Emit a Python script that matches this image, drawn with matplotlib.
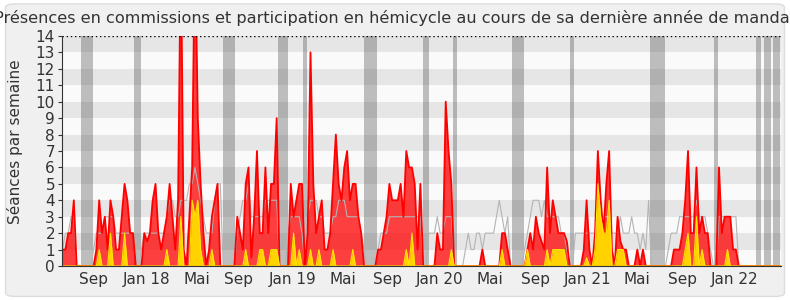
import matplotlib
matplotlib.use("Agg")
import matplotlib.pyplot as plt
from matplotlib.patches import FancyBboxPatch

# one value per week, starting early June 2017
commissions = [
    1, 1, 2, 2, 4, 0, 0, 0, 0, 0, 0, 0, 1, 4, 2, 3,
    1, 4, 3, 1, 1, 3, 5, 4, 2, 2, 0, 0, 0, 2, 1.5, 2,
    4, 5, 2, 1, 2, 3, 5, 3, 1, 4, 20, 1, 0, 3, 6, 20,
    9, 5, 2, 0, 1, 3, 4, 5, 0, 0, 0, 0, 0, 0, 3, 2,
    1, 5, 6, 0.5, 3, 7, 2, 2, 6, 2, 5, 5, 9, 0, 0, 0,
    0, 5, 3, 4, 5, 5, 0, 2, 13, 5, 2, 3, 4, 1, 1, 2,
    5, 8, 5, 4, 6, 7, 4, 5, 5, 3, 2, 0, 0, 0, 0, 0,
    1, 1, 2, 3, 5, 4, 4, 4, 5, 3, 7, 6, 6, 5, 1, 5,
    0, 0, 0, 0, 0, 2, 1, 1, 10, 7, 5, 0, 0, 0, 0, 0,
    0, 0, 0, 0, 0, 1, 0, 0, 0, 0, 0, 0, 2, 2, 1, 0,
    0, 0, 0, 0, 0, 1, 2, 1, 3, 2, 1.5, 1, 6, 2, 4, 3,
    2, 2, 2, 1.5, 0, 0, 0, 0, 0, 1, 4, 1, 0, 2, 7, 4,
    2, 5, 7, 1, 0, 3, 1.5, 1, 1, 0, 0, 0, 1, 0, 1, 0,
    0, 0, 0, 0, 0, 0, 0, 0, 0, 1, 1, 1, 2, 4, 7, 2,
    2, 6, 2, 3, 2, 2, 0, 0, 0, 6, 2, 3, 3, 3, 1, 1,
    0, 0, 0, 0, 0, 0, 0, 0, 0, 0, 0, 0, 0, 0, 0, 0,
]

hemicycle = [
    0, 0, 0, 0, 0, 0, 0, 0, 0, 0, 0, 0, 0, 1, 0, 0,
    0, 2, 0, 0, 0, 0, 2, 0, 0, 0, 0, 0, 0, 0, 0, 0,
    0, 0, 0, 0, 0, 1, 0, 0, 0, 0, 3, 0, 0, 0, 4, 3,
    4, 1, 0, 0, 0, 1, 0, 0, 0, 0, 0, 0, 0, 0, 0, 0,
    0, 1, 0, 0, 0, 0, 1, 1, 0, 0, 1, 1, 1, 0, 0, 0,
    0, 0, 2, 0, 1, 0, 0, 0, 1, 0, 0, 1, 0, 0, 0, 0,
    1, 0, 0, 0, 0, 0, 0, 1, 0, 0, 0, 0, 0, 0, 0, 0,
    0, 0, 0, 0, 0, 0, 0, 0, 0, 0, 1, 0, 2, 0, 0, 0,
    0, 0, 0, 0, 0, 0, 0, 0, 0, 0, 1, 0, 0, 0, 0, 0,
    0, 0, 0, 0, 0, 0, 0, 0, 0, 0, 0, 0, 1, 0, 0, 0,
    0, 0, 0, 0, 0, 1, 0, 0, 0, 0, 0, 0, 1, 0, 1, 1,
    1, 1, 1, 0, 0, 0, 0, 0, 0, 0, 0.5, 0, 0, 1, 5, 3,
    2, 2, 4, 0, 0, 1, 1, 1, 0, 0, 0, 0, 0, 0, 0, 0,
    0, 0, 0, 0, 0, 0, 0, 0, 0, 0, 0, 0, 0, 1, 2, 0,
    0, 3, 0, 1, 0, 0, 0, 0, 0, 0, 0, 0, 1, 0, 0, 0,
    0, 0, 0, 0, 0, 0, 0, 0, 0, 0, 0, 0, 0, 0, 0, 0,
]

mediane = [
    1, 2, 2, 3, 3, 0, 0, 0, 0, 0, 0, 1, 2, 2, 2, 3,
    3, 3, 3, 2, 2, 2, 2, 2, 2, 2, 1, 0, 1, 2, 2, 2,
    2, 2, 2, 2, 2, 3, 4, 4, 3, 3, 4, 4, 4, 5, 5, 6,
    5, 4, 3, 2, 2, 2, 4, 5, 5, 0, 0, 0, 0, 0, 2, 3,
    4, 4, 5, 3, 3, 3, 3, 3, 4, 4, 4, 4, 4, 0, 0, 0,
    2, 3, 3, 3, 3, 2, 0, 3, 4, 4, 4, 3, 3, 2, 2, 2,
    3, 3, 4, 4, 4, 3, 3, 3, 3, 3, 2, 1, 0, 0, 0, 0,
    1, 2, 2, 2, 3, 3, 3, 3, 3, 3, 3, 3, 3, 3, 3, 3,
    0, 0, 2, 2, 2, 3, 2, 2, 3, 3, 3, 0, 0, 0, 0, 1,
    2, 1, 1, 2, 2, 1, 2, 2, 2, 2, 3, 4, 3, 2, 3, 0,
    0, 0, 0, 0, 1, 2, 3, 4, 4, 4, 3, 4, 3, 3, 3, 3,
    3, 2, 2, 1, 0, 0, 2, 2, 2, 2, 2, 2, 2, 2, 3, 3,
    3, 3, 3, 2, 2, 2, 3, 2, 2, 2, 3, 2, 2, 1, 2, 1,
    4, 0, 0, 0, 0, 0, 0, 1, 2, 2, 2, 3, 3, 3, 3, 3,
    3, 4, 3, 3, 3, 2, 1, 0, 0, 3, 3, 3, 3, 3, 3, 3,
    0, 0, 0, 0, 0, 0, 0, 0, 0, 0, 0, 0, 0, 0, 0, 0,
]

# vacances parlementaires (in weeks)
vacances = [(6.6, 10.9), (25.4, 27.9), (57.0, 61.3), (76.5, 80.0), (85.4, 86.8),
            (107.0, 111.7), (128.0, 130.0), (138.6, 140.0), (159.6, 163.8),
            (180.0, 181.6), (208.6, 214.0), (231.3, 232.7), (246.0, 248.0),
            (249.0, 251.5), (252.2, 254.7)]

mois = ["Sep", "Jan 18", "Mai", "Sep", "Jan 19", "Mai", "Sep", "Jan 20",
        "Mai", "Sep", "Jan 21", "Mai", "Sep", "Jan 22"]
mois_pos = [10.9, 30.0, 47.8, 62.3, 81.8, 99.6, 115.2, 134.0,
            151.8, 167.7, 186.2, 203.9, 219.9, 238.4]

semaines = list(range(len(commissions)))

fig = plt.figure(figsize=(7.9, 3.0), dpi=100)
fig.patch.set_facecolor("white")
cadre = FancyBboxPatch((0.007, 0.012), 0.986, 0.975,
                       boxstyle="round,pad=0,rounding_size=0.012",
                       transform=fig.transFigure, facecolor="#f0f0f0",
                       edgecolor="#dddddd", linewidth=1, zorder=-10)
fig.add_artist(cadre)

ax = fig.add_axes([62 / 790, 34 / 300, 719 / 790, 230 / 300])
ax.set_facecolor("#fafafa")

for i in range(14):
    if i % 2 == 1:
        ax.axhspan(i, i + 1, color="#e6e6e6", lw=0, zorder=0)

for a, b in vacances:
    ax.axvspan(a, b, color="#4c4c4c", alpha=0.35, lw=0, zorder=1)

ax.fill_between(semaines, commissions, color="#ff0000", alpha=0.75, lw=0, zorder=2)
ax.plot(semaines, mediane, color="#b4b4b4", lw=0.8, zorder=3)
ax.plot(semaines, commissions, color="#ff0000", lw=1.3, zorder=4)
ax.fill_between(semaines, hemicycle, color="#ffd200", lw=0, zorder=5)
ax.plot(semaines, hemicycle, color="#ffe600", lw=0.8, zorder=5)

ax.axhline(14, color="black", ls=(0, (1, 2)), lw=1, zorder=6)

ax.set_xlim(-0.2, 255)
ax.set_ylim(0, 14)
ax.set_yticks(range(15))
ax.set_xticks(mois_pos)
ax.set_xticklabels(mois)

for s in ["top", "right"]:
    ax.spines[s].set_visible(False)
ax.spines["left"].set_color("#333333")
ax.spines["bottom"].set_color("#333333")
ax.spines["left"].set_zorder(7)
ax.spines["bottom"].set_zorder(7)

ax.tick_params(axis="y", labelsize=11, colors="#333333", length=3, pad=2)
ax.tick_params(axis="x", labelsize=11, colors="#333333", length=0, pad=4)

ax.set_ylabel("Séances par semaine", fontsize=11, color="#333333")
ax.yaxis.set_label_coords(-0.054, 0.54)
fig.text(0.5, 0.94, "Présences en commissions et participation en hémicycle au cours de sa dernière année de mandat",
         ha="center", va="center", fontsize=11.6, color="#333333")

fig.savefig("out.png", dpi=100)
